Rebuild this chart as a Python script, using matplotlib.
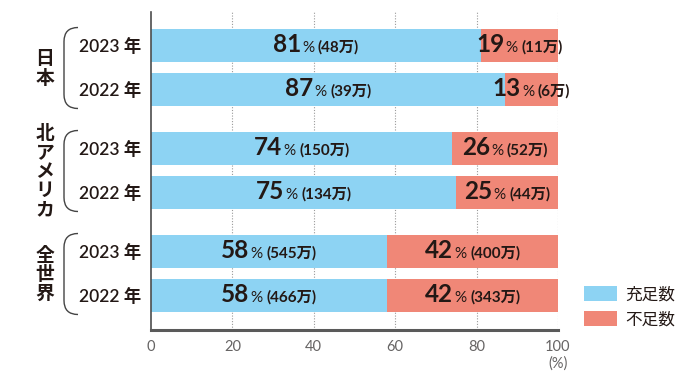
import matplotlib
matplotlib.use("Agg")
import matplotlib.pyplot as plt
import matplotlib.transforms as mtransforms
from matplotlib.patches import Patch, PathPatch
from matplotlib.path import Path
from matplotlib.offsetbox import TextArea, HPacker, AnnotationBbox

plt.rcParams['font.family'] = ['Lato', 'Noto Sans CJK JP', 'DejaVu Sans']

# ---- data ----
groups = ["日本", "北アメリカ", "全世界"]
years = ["2023 年", "2022 年"]
sufficient_pct = [[81, 87], [74, 75], [58, 58]]
shortage_pct = [[19, 13], [26, 25], [42, 42]]
sufficient_num = [["48万", "39万"], ["150万", "134万"], ["545万", "466万"]]
shortage_num = [["11万", "6万"], ["52万", "44万"], ["400万", "343万"]]
series_names = ["充足数", "不足数"]
xticks = [0, 20, 40, 60, 80, 100]

BLUE = "#8dd3f3"
RED = "#f08777"
TXT = "#231815"
GREY = "#666464"
CJK = ['Noto Sans CJK JP', 'DejaVu Sans']

fig = plt.figure(figsize=(7, 3.8), dpi=100)
ax = fig.add_axes([151/700, 1-330/380, (558-151)/700, (330-12)/380])

# layout positions (from index)
bar_h = 33
in_step = 44
grp_step = 103
first = 45.5
ypos = [[first + g*grp_step + i*in_step for i in range(len(years))] for g in range(len(groups))]

for g in range(len(groups)):
    for i in range(len(years)):
        y = ypos[g][i]
        s = sufficient_pct[g][i]
        r = shortage_pct[g][i]
        ax.barh(y, s, height=bar_h, color=BLUE, zorder=2)
        ax.barh(y, r, left=s, height=bar_h, color=RED, zorder=2)
        for cx, pct, num in [(s/2, s, sufficient_num[g][i]), (s + r/2, r, shortage_num[g][i])]:
            inner = HPacker(children=[
                TextArea(str(pct), textprops=dict(fontsize=17.5, fontweight='bold', color=TXT)),
                TextArea("%", textprops=dict(fontsize=11, color=TXT)),
            ], align="baseline", pad=0, sep=0.8)
            box = HPacker(children=[
                inner,
                TextArea("(" + num + ")", textprops=dict(fontsize=11, fontweight='bold', color=TXT)),
            ], align="baseline", pad=0, sep=2.8)
            ab = AnnotationBbox(box, (cx, y), xycoords='data', frameon=False,
                                box_alignment=(0.5, 0.45), zorder=5, annotation_clip=False)
            ax.add_artist(ab)

ax.set_xlim(0, 100)
ax.set_ylim(330, 12)
ax.set_xticks(xticks)
ax.set_xticklabels([str(t) for t in xticks], fontsize=10.5, color=GREY)
ax.tick_params(axis='x', length=0, pad=7)

flat_y = [y for row in ypos for y in row]
ax.set_yticks(flat_y)
ax.set_yticklabels(years * len(groups), fontsize=12.5, fontweight='semibold', color=TXT)
ax.tick_params(axis='y', length=0, pad=7)

for t in xticks[1:]:
    ax.axvline(t, color="#9a9a9a", lw=0.8, ls=(0, (1, 1.5)), zorder=1)

for sp in ["top", "right"]:
    ax.spines[sp].set_visible(False)
ax.spines["left"].set_color("#4d4d4d")
ax.spines["left"].set_linewidth(1.2)
ax.spines["bottom"].set_color("#5a5a5a")
ax.spines["bottom"].set_linewidth(2.2)

ax.text(100, 364, "(%)", fontsize=10.5, color=GREY, ha='center', va='center',
        transform=ax.transData, clip_on=False)

# group labels and brackets
bt = mtransforms.blended_transform_factory(fig.dpi_scale_trans, ax.transData)
for g, name in enumerate(groups):
    center = sum(ypos[g]) / len(ypos[g])
    ax.text(0.45, center + 1, "\n".join(name), transform=bt, fontsize=13.5, fontweight='bold',
            family=CJK, color=TXT, ha='center', va='center', linespacing=1.0, clip_on=False)
    top = center - 40
    bot = center + 41
    verts = [(0.78, top), (0.64, top), (0.64, top + 14), (0.64, bot - 14),
             (0.64, bot), (0.78, bot)]
    codes = [Path.MOVETO, Path.CURVE3, Path.CURVE3, Path.LINETO, Path.CURVE3, Path.CURVE3]
    pp = PathPatch(Path(verts, codes), transform=bt, fill=False, edgecolor="#444444",
                   lw=1.0, clip_on=False)
    ax.add_artist(pp)

handles = [Patch(facecolor=BLUE, edgecolor='none'), Patch(facecolor=RED, edgecolor='none')]
fig.legend(handles, series_names, loc='upper left', bbox_to_anchor=(584/700, 1-286/380),
           frameon=False, prop=dict(family=CJK, size=12), handlelength=1.95, handleheight=1.05,
           labelspacing=0.45, handletextpad=0.5, borderpad=0, borderaxespad=0,
           labelcolor=TXT)

fig.savefig("out.png", dpi=100)
